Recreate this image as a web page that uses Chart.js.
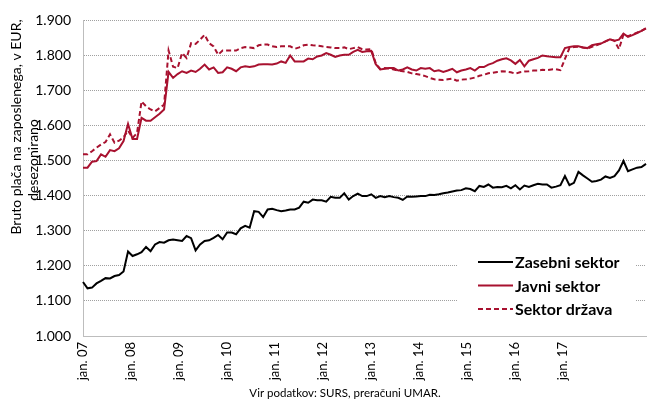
<!DOCTYPE html>
<html>
<head>
<meta charset="utf-8">
<script src="https://cdn.jsdelivr.net/npm/chart.js@4.4.1/dist/chart.umd.min.js"></script>
<style>
  html, body { margin: 0; padding: 0; background: #fff; }
</style>
</head>
<body>
<canvas id="Linechart" width="647" height="402"></canvas>
<script>

// monthly data, jan. 2007 - jun. 2017
const months = [];
for (var m = 0; m < 126; m++) {
  months.push((m % 12 + 1) + '/' + (2007 + Math.floor(m / 12)));
}

const xTickLabels = ['jan. 07', 'jan. 08', 'jan. 09', 'jan. 10', 'jan. 11', 'jan. 12',
  'jan. 13', 'jan. 14', 'jan. 15', 'jan. 16', 'jan. 17'];

const zasebni = [
  1154, 1136, 1138, 1150, 1157, 1165, 1164, 1171, 1174, 1184, 1241, 1228,
  1233, 1239, 1254, 1242, 1261, 1268, 1266, 1273, 1275, 1273, 1271, 1285,
  1279, 1244, 1261, 1271, 1273, 1280, 1288, 1276, 1295, 1295, 1290, 1307,
  1314, 1309, 1356, 1354, 1339, 1361, 1363, 1359, 1356, 1358, 1361, 1361,
  1366, 1383, 1380, 1389, 1387, 1387, 1383, 1397, 1394, 1394, 1407, 1389,
  1399, 1406, 1399, 1399, 1404, 1394, 1399, 1396, 1399, 1396, 1394, 1388,
  1398, 1397, 1398, 1399, 1399, 1403, 1402, 1404, 1407, 1409, 1412, 1415,
  1416, 1421, 1419, 1413, 1428, 1425, 1432, 1423, 1425, 1424, 1428, 1421,
  1430, 1418, 1429, 1425, 1430, 1434, 1432, 1432, 1423, 1426, 1430, 1456,
  1430, 1437, 1468, 1458, 1449, 1440, 1442, 1446, 1455, 1451, 1456, 1472,
  1499, 1470, 1475, 1480, 1482, 1491
];

const javni = [
  1480, 1480, 1497, 1499, 1518, 1511, 1530, 1527, 1535, 1556, 1605, 1562,
  1562, 1622, 1614, 1614, 1624, 1634, 1646, 1753, 1736, 1747, 1755, 1750,
  1757, 1753, 1762, 1774, 1760, 1766, 1750, 1752, 1766, 1762, 1755, 1766,
  1769, 1767, 1769, 1774, 1775, 1775, 1774, 1777, 1783, 1779, 1800, 1783,
  1783, 1783, 1791, 1789, 1797, 1800, 1807, 1802, 1796, 1800, 1802, 1802,
  1810, 1816, 1810, 1812, 1813, 1775, 1760, 1762, 1764, 1764, 1757, 1760,
  1766, 1760, 1757, 1764, 1762, 1764, 1755, 1758, 1753, 1757, 1762, 1752,
  1757, 1760, 1764, 1757, 1767, 1767, 1774, 1778, 1785, 1789, 1792, 1786,
  1776, 1787, 1769, 1785, 1789, 1793, 1800, 1798, 1796, 1795, 1795, 1821,
  1824, 1826, 1826, 1823, 1821, 1829, 1832, 1834, 1840, 1846, 1842, 1845,
  1862, 1853, 1858, 1864, 1870, 1877
];

const drzava = [
  1518, 1518, 1527, 1537, 1546, 1553, 1575, 1551, 1557, 1567, 1586, 1565,
  1579, 1669, 1655, 1646, 1641, 1650, 1660, 1814, 1768, 1764, 1807, 1793,
  1835, 1833, 1845, 1859, 1835, 1826, 1802, 1814, 1814, 1814, 1814, 1821,
  1824, 1823, 1821, 1829, 1831, 1831, 1826, 1824, 1826, 1826, 1826, 1819,
  1823, 1829, 1831, 1829, 1828, 1826, 1824, 1823, 1821, 1821, 1823, 1818,
  1821, 1824, 1818, 1817, 1818, 1778, 1761, 1764, 1763, 1760, 1757, 1755,
  1753, 1749, 1747, 1745, 1741, 1736, 1732, 1731, 1730, 1732, 1734, 1728,
  1731, 1732, 1734, 1737, 1742, 1745, 1749, 1751, 1753, 1755, 1754, 1752,
  1748, 1752, 1754, 1755, 1757, 1757, 1759, 1758, 1760, 1761, 1758, 1790,
  1821, 1824, 1825, 1823, 1820, 1825, 1829, 1834, 1840, 1846, 1842, 1818,
  1860, 1855, 1860, 1865, 1870, 1878
];

const yTitle = ['Bruto plača na zaposlenega, v EUR,', 'desezonirano'];
const source = 'Vir podatkov: SURS, preračuni UMAR.';

const red = '#a8112f';

// texts and legend drawn on top
const extras = {
  id: 'extras',
  afterDraw(chart) {
    const ctx = chart.ctx;
    ctx.save();
    ctx.fillStyle = '#000';
    ctx.font = '14px Lato';
    ctx.textAlign = 'center';
    ctx.textBaseline = 'middle';

    ctx.save();
    ctx.translate(16, 127);
    ctx.rotate(-Math.PI / 2);
    ctx.fillText(yTitle[0], 0, 0);
    ctx.restore();

    ctx.save();
    ctx.translate(33, 160);
    ctx.rotate(-Math.PI / 2);
    ctx.fillText(yTitle[1], 0, 0);
    ctx.restore();

    ctx.font = '11.5px Lato';
    ctx.fillText(source, 345, 393);

    // legend
    ctx.fillStyle = '#fff';
    ctx.fillRect(458, 249, 178, 72);
    chart.data.datasets.forEach(function (ds, i) {
      var y = 262 + i * 23.5;
      ctx.strokeStyle = ds.borderColor;
      ctx.lineWidth = 2;
      ctx.setLineDash(ds.borderDash || []);
      ctx.beginPath();
      ctx.moveTo(478, y);
      ctx.lineTo(513, y);
      ctx.stroke();
      ctx.setLineDash([]);
      ctx.fillStyle = '#000';
      ctx.font = 'bold 16px Lato';
      ctx.textAlign = 'left';
      ctx.fillText(ds.label, 515, y + 1);
    });
    ctx.restore();
  }
};

const Linedata = {
  labels: months,
  datasets: [{
    label: 'Zasebni sektor',
    data: zasebni,
    borderColor: '#000000',
    borderWidth: 2
  }, {
    label: 'Javni sektor',
    data: javni,
    borderColor: red,
    borderWidth: 2
  }, {
    label: 'Sektor država',
    data: drzava,
    borderColor: red,
    borderWidth: 2,
    borderDash: [5, 3]
  }]
};

var Lineconfig = {
  type: 'line',
  data: Linedata,
  plugins: [extras],
  options: {
    responsive: false,
    animation: false,
    layout: { padding: { top: 20, right: 1, left: 0, bottom: 0 } },
    elements: {
      point: { radius: 0 },
      line: { tension: 0, fill: false }
    },
    plugins: {
      legend: { display: false },
      tooltip: { enabled: false }
    },
    scales: {
      x: {
        type: 'category',
        display: false,
        offset: false
      },
      xl: {
        type: 'linear',
        position: 'bottom',
        min: 0,
        max: 11.73,
        afterBuildTicks: function (axis) {
          axis.ticks = xTickLabels.map(function (_, i) { return { value: i }; });
        },
        afterFit: function (axis) { axis.height = 66; },
        grid: { display: false, drawTicks: false },
        border: { display: true, color: '#bdbdbd', width: 1 },
        ticks: {
          autoSkip: false,
          minRotation: 90,
          maxRotation: 90,
          padding: 6,
          color: '#000',
          font: { family: 'Lato', size: 13 },
          callback: function (v, i) { return xTickLabels[i]; }
        }
      },
      y: {
        min: 1000,
        max: 1900,
        afterFit: function (axis) { axis.width = 83; },
        grid: { color: '#a0a0a0', lineWidth: 1, drawTicks: false },
        border: { display: true, color: '#bdbdbd', width: 1, dash: [1, 1] },
        ticks: {
          stepSize: 100,
          padding: 12,
          color: '#000',
          font: { family: 'Lato', size: 14 },
          callback: function (v) { return (v / 1000).toFixed(3); }
        }
      }
    }
  }
};

var Linechart = new Chart(
  document.getElementById('Linechart'),
  Lineconfig
);
</script>
</body>
</html>
